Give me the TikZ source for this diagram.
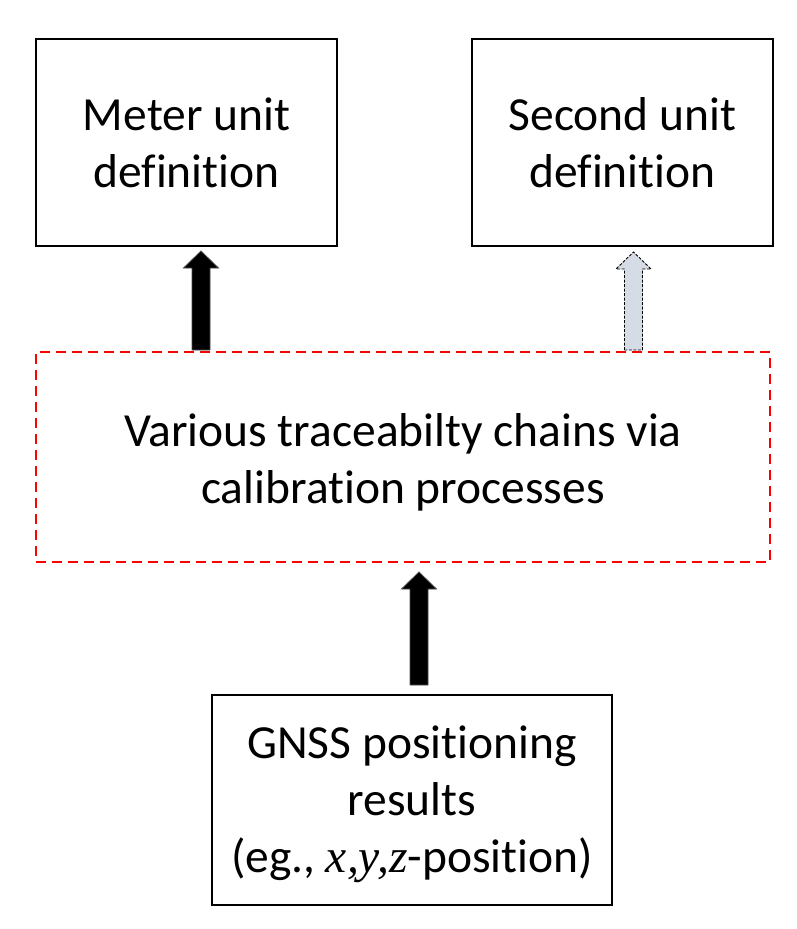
\documentclass[tikz,border=0pt]{standalone}
\usepackage{fontspec}
\setmainfont[Ligatures=NoCommon]{Carlito}
\newfontfamily\tnr{Liberation Serif}
\usetikzlibrary{calc}
\definecolor{paleblue}{HTML}{D6DCE5}
\tikzset{
  box/.style={draw=black, line width=1.3pt, inner sep=0pt, align=center,
    font=\fontsize{47.5pt}{57pt}\selectfont},
  redbox/.style={draw=red, line width=2.2pt, dash pattern=on 10pt off 6pt, inner sep=0pt, align=center,
    font=\fontsize{47.5pt}{57pt}\selectfont},
  solidarrow/.style={fill=black, draw=black!70, line width=0.8pt},
  palearrow/.style={fill=paleblue, draw=black, line width=0.9pt, dash pattern=on 3pt off 1.5pt},
}
\newcommand\fatarrow[3]{%
  \path[#3] let \p1=(#1), \p2=(#2) in
    (\x1-9pt,\y1) -- (\x1-9pt,\y2-17pt) -- (\x1-17.5pt,\y2-17pt) -- (\x1,\y2)
    -- (\x1+17.5pt,\y2-17pt) -- (\x1+9pt,\y2-17pt) -- (\x1+9pt,\y1) -- cycle;}
\begin{document}
\begin{tikzpicture}[x=1pt,y=-1pt]
\useasboundingbox (0,0) rectangle (797,929);
\node[box, minimum width=301pt, minimum height=207pt] (meter) at (186.5,142.5) {Meter unit\\definition};
\node[box, minimum width=301pt, minimum height=207pt] (second) at (622.5,142.5) {Second unit\\definition};
\node[redbox, minimum width=734pt, minimum height=210pt] (chain) at (403,457) {};
\node[font=\fontsize{47.5pt}{57pt}\selectfont, align=center, inner sep=0pt] (chaintext) at ($(chain.center)+(0,5)$) {Various traceabilty chains via\\calibration processes};
\node[box, minimum width=400pt, minimum height=210pt] (gnss) at (412,800) {};
\node[font=\fontsize{47.5pt}{57pt}\selectfont, align=center, inner sep=0pt] (gnsstext) at ($(gnss.center)+(0,4)$) {GNSS positioning\\results\\(eg., {\tnr\itshape x,y,z}-position)};
\coordinate (a1b) at (201,350);
\coordinate (a1t) at (201,251);
\coordinate (a2b) at (633.5,350);
\coordinate (a2t) at (633.5,252);
\coordinate (a3b) at (419,685);
\coordinate (a3t) at (419,572);
\fatarrow{a1b}{a1t}{solidarrow}
\fatarrow{a2b}{a2t}{palearrow}
\fatarrow{a3b}{a3t}{solidarrow}
\end{tikzpicture}
\end{document}
